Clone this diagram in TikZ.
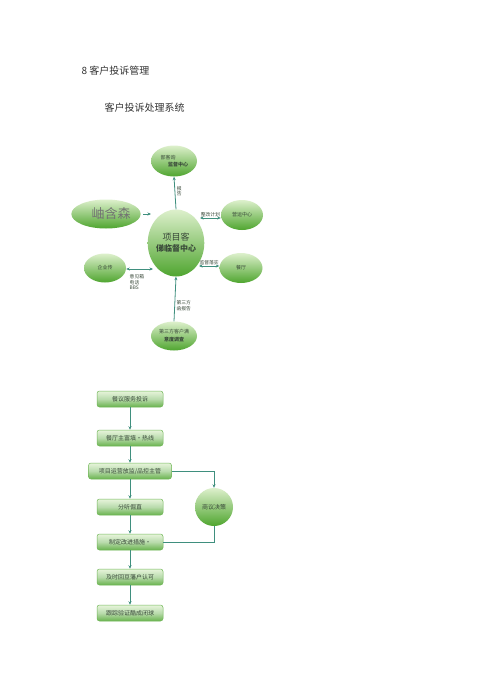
\documentclass[tikz,border=0pt]{standalone}
\usepackage{fontspec}
\setmainfont{Liberation Serif}
\newfontfamily\cjk{Noto Sans CJK SC}
\usetikzlibrary{arrows.meta,shapes.geometric}
\definecolor{gdark}{HTML}{4FA52F}
\definecolor{glight}{HTML}{DDF0CC}
\definecolor{gline}{HTML}{3F8F7E}
\definecolor{gtext}{HTML}{3A4A3A}
\tikzset{
  blob/.style={ellipse,top color=glight,bottom color=gdark,draw=none,inner sep=0pt,
    font=\cjk\fontsize{5}{6}\selectfont,text=gtext,align=center},
  fbox/.style={rectangle,rounded corners=2.5pt,draw=gdark!80,line width=0.5pt,
    top color=glight!70,bottom color=gdark!85,middle color=gdark!40,
    minimum height=16pt,inner sep=1pt,font=\cjk\fontsize{6}{7}\selectfont,text=gtext},
  conn/.style={draw=gline,line width=0.8pt},
  arr/.style={conn,-{Stealth[length=3.5pt,width=3pt]}},
  darr/.style={conn,{Stealth[length=3.5pt,width=3pt]}-{Stealth[length=3.5pt,width=3pt]}},
  lbl/.style={font=\cjk\fontsize{4.8}{5.6}\selectfont,text=gtext,inner sep=0.5pt,align=left}
}
\begin{document}
\begin{tikzpicture}[x=1pt,y=-1pt]
\useasboundingbox[fill=white] (0,0) rectangle (500,693);
% titles
\node[anchor=west,font=\cjk\fontsize{10}{12}\selectfont,text=black!80] (t1) at (78,71) {8 客户投诉管理};
\node[anchor=west,font=\cjk\fontsize{10}{12}\selectfont,text=black!80] (t2) at (101,108) {客户投诉处理系统};
% top diagram
\node[blob,minimum width=46pt,minimum height=31pt] (top) at (174,161) {\hspace*{-12pt}部客询\\[1pt]\hspace*{8pt}\textbf{监督中心}};
\node[blob,minimum width=49pt,minimum height=67pt,font=\cjk\fontsize{9}{11}\selectfont] (ctr) at (176,243) {项目客\\{\fontsize{8}{9}\selectfont\textbf{俤临督中心}}};
\node[blob,minimum width=56pt,minimum height=29pt,font=\cjk\fontsize{13}{14}\selectfont,text=black!55] (lt) at (106,214) {\hspace*{10pt}岫含森};
\node[blob,minimum width=42pt,minimum height=30pt] (op) at (242,215) {营运中心};
\node[blob,minimum width=42pt,minimum height=29pt] (ent) at (105,268) {企业传};
\node[blob,minimum width=43pt,minimum height=30pt] (rest) at (241,268) {餐厅};
\node[blob,minimum width=46pt,minimum height=29pt] (bot) at (174,336) {第三方客户满\\[2pt]\textbf{意度调查}};
\coordinate (lta) at (143,214);
\draw[arr] (ctr.north) -- (top.south) node[lbl,pos=0.55,right=1pt] {报\\告};
\draw[arr] (lta) -- (151,214);
\draw[darr] (200,218) -- (op.west |- 0,218) node[lbl,midway,above=0.5pt] {整改计划};
\draw[darr] (ent.east |- 0,269) -- (153,269);
\node[lbl,anchor=north west] (lb1) at (129,274) {意见箱\\电话\\BBS};
\draw[darr] (199,266) -- (rest.west |- 0,266) node[lbl,midway,above=0.5pt] {监督落实};
\draw[arr] (bot.north) -- (ctr.south) node[lbl,pos=0.35,right=1pt] {第三方\\函报告};
% flowchart
\node[fbox,minimum width=66pt] (b1) at (130,399) {餐议服务投诉};
\node[fbox,minimum width=66pt] (b2) at (130,438) {餐厅主富填•热线};
\node[fbox,minimum width=83pt] (b3) at (130,471) {项目运营放监/品控主管};
\node[fbox,minimum width=66pt] (b4) at (130,507) {分听倔直};
\node[fbox,minimum width=66pt] (b5) at (130,542) {制定改进措施•};
\node[fbox,minimum width=66pt] (b6) at (130,577) {及时回豆藩户认可};
\node[fbox,minimum width=66pt] (b7) at (130,613) {跟踪验证酷成闭球};
\node[circle,minimum size=38pt,inner sep=0pt,top color=glight,bottom color=gdark,
  font=\cjk\fontsize{6}{7}\selectfont,text=gtext] (dec) at (214,507) {商议决策};
\draw[arr] (b1) -- (b2);
\draw[arr] (b2) -- (b3);
\draw[arr] (b3) -- (b4);
\draw[arr] (b4) -- (b5);
\draw[arr] (b5) -- (b6);
\draw[arr] (b6) -- (b7);
\draw[arr] (b3.east) -| (dec.north);
\draw[conn] (dec.south) |- (b5.east);
\end{tikzpicture}
\end{document}
